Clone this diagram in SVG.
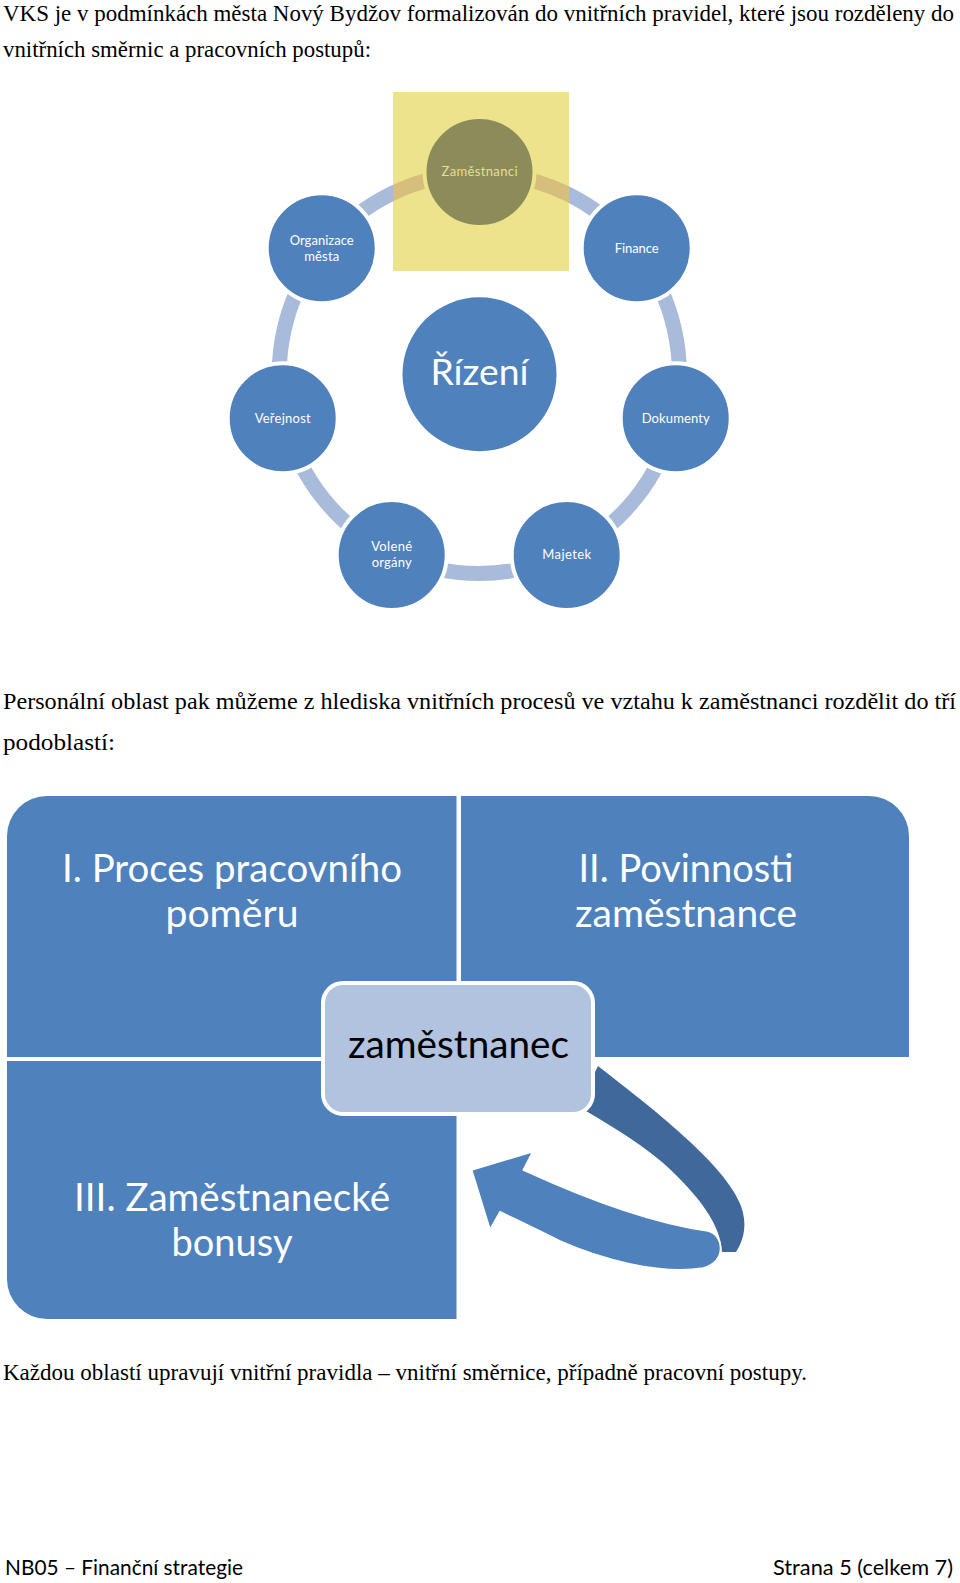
<svg xmlns="http://www.w3.org/2000/svg" width="960" height="1583" viewBox="0 0 960 1583">
<defs>
<style>
.body{font-family:"Liberation Serif","Times New Roman",serif;font-size:23px;fill:#000}
.cal{font-family:Lato,"Open Sans",sans-serif}
.node{fill:#4F81BD;stroke:#fff;stroke-width:4}
.lbl{font-family:Lato,"Open Sans",sans-serif;font-size:13px;fill:#fff;text-anchor:middle}
.arc{fill:none;stroke:#A8BBDB;stroke-width:15}
.arcY{fill:none;stroke:#D6BE7D;stroke-width:15}
.quad{fill:#4F81BD}
.qt{font-family:Lato,"Open Sans",sans-serif;font-size:38px;fill:#fff;text-anchor:middle}
</style>
<clipPath id="yclip"><rect x="393" y="92" width="176" height="179"/></clipPath>
</defs>
<rect width="960" height="1583" fill="#fff"/>

<g id="text-top">
<text class="body" x="3" y="20.5" textLength="951" lengthAdjust="spacingAndGlyphs">VKS je v podmínkách města Nový Bydžov formalizován do vnitřních pravidel, které jsou rozděleny do</text>
<text class="body" x="3" y="56.5" textLength="368" lengthAdjust="spacingAndGlyphs">vnitřních směrnic a pracovních postupů:</text>
</g>

<g id="cycle-connectors">
<path class="arc" d="M322.9,248.8 A200,200 0 0 1 479.3,173.5"/>
<path class="arc" d="M479.3,173.5 A200,200 0 0 1 635.7,248.8"/>
<path class="arc" d="M635.7,248.8 A200,200 0 0 1 674.3,418"/>
<path class="arc" d="M674.3,418 A200,200 0 0 1 566.1,553.7"/>
<path class="arc" d="M566.1,553.7 A200,200 0 0 1 392.5,553.7"/>
<path class="arc" d="M392.5,553.7 A200,200 0 0 1 284.3,418"/>
<path class="arc" d="M284.3,418 A200,200 0 0 1 322.9,248.8"/>
</g>

<g id="highlight">
<rect x="393" y="92" width="176" height="179" fill="#EEE38D"/>
<g clip-path="url(#yclip)">
<path class="arcY" d="M322.9,248.8 A200,200 0 0 1 479.3,173.5"/>
<path class="arcY" d="M479.3,173.5 A200,200 0 0 1 635.7,248.8"/>
</g>
</g>

<g id="node-zamestnanci">
<circle cx="479.5" cy="172" r="55" fill="#8C8B5A" stroke="#EEE38D" stroke-width="4"/>
<text class="lbl" x="479.5" y="176" style="fill:#E8DE96" textLength="76">Zaměstnanci</text>
</g>
<g id="node-organizace">
<circle class="node" cx="321.7" cy="248.3" r="55"/>
<text class="lbl" x="321.7" y="245" textLength="64">Organizace</text>
<text class="lbl" x="321.7" y="261" textLength="35">města</text>
</g>
<g id="node-finance">
<circle class="node" cx="636.7" cy="248.3" r="55"/>
<text class="lbl" x="636.7" y="253" textLength="44">Finance</text>
</g>
<g id="node-rizeni">
<circle cx="479.5" cy="374.3" r="77" fill="#4F81BD"/>
<text class="cal" x="479.5" y="385" font-size="37" fill="#fff" text-anchor="middle" textLength="98" lengthAdjust="spacingAndGlyphs">Řízení</text>
</g>
<g id="node-verejnost">
<circle class="node" cx="282.7" cy="418.3" r="55"/>
<text class="lbl" x="282.7" y="423" textLength="56">Veřejnost</text>
</g>
<g id="node-dokumenty">
<circle class="node" cx="675.7" cy="418.3" r="55"/>
<text class="lbl" x="675.7" y="423" textLength="68">Dokumenty</text>
</g>
<g id="node-volene">
<circle class="node" cx="391.7" cy="555" r="55"/>
<text class="lbl" x="391.7" y="551" textLength="41">Volené</text>
<text class="lbl" x="391.7" y="567" textLength="40">orgány</text>
</g>
<g id="node-majetek">
<circle class="node" cx="566.7" cy="555" r="55"/>
<text class="lbl" x="566.7" y="559" textLength="49">Majetek</text>
</g>

<g id="text-mid">
<text class="body" x="3" y="709" textLength="953" lengthAdjust="spacingAndGlyphs">Personální oblast pak můžeme z hlediska vnitřních procesů ve vztahu k zaměstnanci rozdělit do tří</text>
<text class="body" x="3" y="750" textLength="112" lengthAdjust="spacingAndGlyphs">podoblastí:</text>
</g>

<g id="quad-1">
<path class="quad" d="M7,836 A40,40 0 0 1 47,796 L456.5,796 L456.5,1057 L7,1057 Z"/>
<text class="qt" x="232" y="882" textLength="340" lengthAdjust="spacingAndGlyphs">I. Proces pracovního</text>
<text class="qt" x="232" y="927" textLength="133" lengthAdjust="spacingAndGlyphs">poměru</text>
</g>
<g id="quad-2">
<path class="quad" d="M461,796 L869,796 A40,40 0 0 1 909,836 L909,1057 L461,1057 Z"/>
<text class="qt" x="686" y="882" textLength="215" lengthAdjust="spacingAndGlyphs">II. Povinnosti</text>
<text class="qt" x="686" y="927" textLength="222" lengthAdjust="spacingAndGlyphs">zaměstnance</text>
</g>
<g id="quad-3">
<path class="quad" d="M7,1061 L456.5,1061 L456.5,1319 L47,1319 A40,40 0 0 1 7,1279 Z"/>
<text class="qt" x="232" y="1211" textLength="316" lengthAdjust="spacingAndGlyphs">III. Zaměstnanecké</text>
<text class="qt" x="232" y="1256" textLength="121" lengthAdjust="spacingAndGlyphs">bonusy</text>
</g>

<g id="cycle-arrow">
<path d="M598,1066 C652,1108 726,1165 741,1206 C747,1223 745,1238 736,1252 L722,1252 C721,1226 700,1196 662,1162 C632,1137 602,1121 578,1106 Z" fill="#40689A"/>
<path d="M471.7,1170 L532.7,1151.7 L523.3,1170 C580,1196 650,1223 708,1231 C724,1235 727,1262 703,1268 C660,1275 600,1259 560,1241 C540,1231 515,1219 500,1211.7 L490,1229.3 Z" fill="#4F81BD" stroke="#fff" stroke-width="1.5"/>
</g>

<g id="node-zamestnanec">
<rect x="323" y="983" width="270" height="131" rx="20" fill="#B2C3DF" stroke="#fff" stroke-width="4"/>
<text class="cal" x="458.5" y="1058" font-size="38" fill="#000" text-anchor="middle" textLength="221" lengthAdjust="spacingAndGlyphs">zaměstnanec</text>
</g>

<g id="text-bottom">
<text class="body" x="3" y="1380" textLength="804" lengthAdjust="spacingAndGlyphs">Každou oblastí upravují vnitřní pravidla – vnitřní směrnice, případně pracovní postupy.</text>
</g>

<g id="footer">
<text class="cal" x="5" y="1575" font-size="21" fill="#000" textLength="238" lengthAdjust="spacingAndGlyphs">NB05 – Finanční strategie</text>
<text class="cal" x="773" y="1575" font-size="21" fill="#000" textLength="180" lengthAdjust="spacingAndGlyphs">Strana 5 (celkem 7)</text>
</g>
</svg>
